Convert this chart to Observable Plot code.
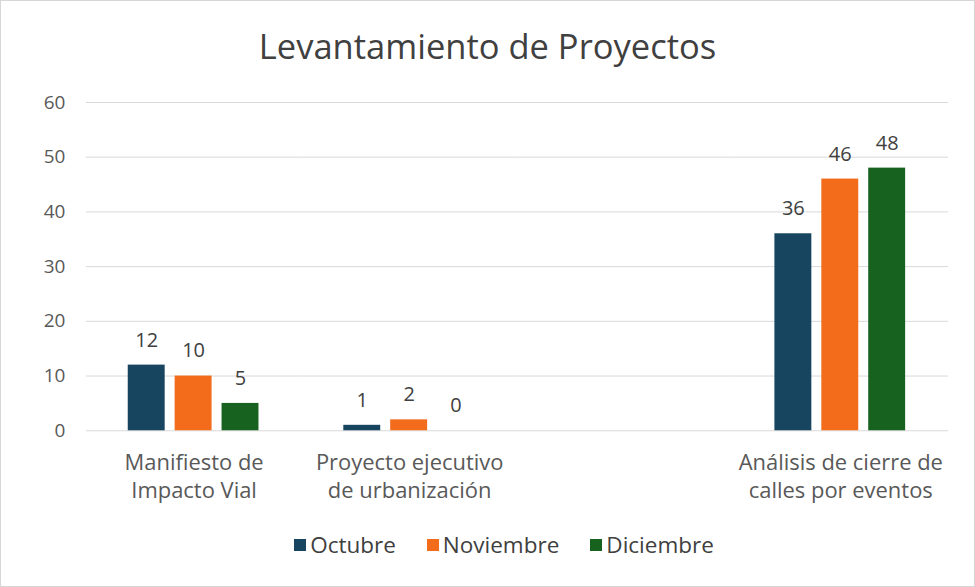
<!DOCTYPE html>
<html>
<head>
<meta charset="utf-8">
<script src="https://cdn.jsdelivr.net/npm/d3@7"></script>
<script src="https://cdn.jsdelivr.net/npm/@observablehq/plot@0.6"></script>
<style>
  html, body { margin: 0; padding: 0; background: #fff; }
  #wrap { width: 975px; height: 587px; box-sizing: border-box; border: 1px solid #d6d6d6; position: relative; overflow: hidden; font-family: "Open Sans", sans-serif; }
  #title { height: 80px; line-height: 90px; text-align: center; font-size: 34.5px; color: #404040; }
  #legend { display: flex; justify-content: center; gap: 31px; font-size: 22.5px; color: #404040; margin-top: 9px; padding-left: 33px; }
  #legend .item { display: flex; align-items: center; gap: 4px; }
  #legend .sw { width: 12px; height: 12px; display: inline-block; }
</style>
</head>
<body>
<div id="wrap">
  <div id="title"></div>
  <div id="chart"></div>
  <div id="legend"></div>
</div>
<script>
const title = "Levantamiento de Proyectos";
const categories = ["Manifiesto de Impacto Vial", "Proyecto ejecutivo de urbanización", "", "Análisis de cierre de calles por eventos"];
const categoryLabels = ["Manifiesto de\nImpacto Vial", "Proyecto ejecutivo\nde urbanización", "", "Análisis de cierre de\ncalles por eventos"];
const months = ["Octubre", "Noviembre", "Diciembre"];
const octubre = [12, 1, null, 36];
const noviembre = [10, 2, null, 46];
const diciembre = [5, 0, null, 48];
const colors = ["#17445f", "#f26c1c", "#17621f"];
const yTicks = [0, 10, 20, 30, 40, 50, 60];

const series = [octubre, noviembre, diciembre];
const rows = [];
categories.forEach((c, i) => {
  months.forEach((m, j) => {
    rows.push({category: c, month: m, value: series[j][i]});
  });
});

document.getElementById("title").textContent = title;

const chart = Plot.plot({
  width: 975,
  height: 440,
  marginLeft: 83,
  marginRight: 25,
  marginTop: 21,
  marginBottom: 90,
  style: {fontFamily: "Open Sans, sans-serif", color: "#595959", background: "white", overflow: "visible"},
  fx: {domain: categories, padding: 0, label: null},
  x: {domain: months, paddingInner: 0.21, paddingOuter: 0.87, axis: null},
  y: {domain: [0, 60], label: null},
  color: {domain: months, range: colors},
  marks: [
    Plot.ruleY(yTicks, {y: d => d, stroke: "#d9d9d9", strokeWidth: 1}),
    Plot.barY(rows, {fx: "category", x: "month", y: "value", fill: "month"}),
    Plot.text(rows, {fx: "category", x: "month", y: "value", text: d => d.value == null ? null : String(d.value), dy: -25, fontSize: 20, fill: "#404040"}),
    Plot.axisY(yTicks, {tickSize: 0, tickPadding: 21, fontSize: 19, fill: "#595959", label: null}),
    Plot.axisFx({anchor: "bottom", tickSize: 0, tickPadding: 20, fontSize: 22, lineHeight: 1.25, fill: "#595959", label: null,
      tickFormat: d => categoryLabels[categories.indexOf(d)]})
  ]
});
document.getElementById("chart").appendChild(chart);

const legend = document.getElementById("legend");
months.forEach((m, i) => {
  const item = document.createElement("div");
  item.className = "item";
  const sw = document.createElement("span");
  sw.className = "sw";
  sw.style.background = colors[i];
  const t = document.createElement("span");
  t.textContent = m;
  item.appendChild(sw);
  item.appendChild(t);
  legend.appendChild(item);
});
</script>
</body>
</html>
